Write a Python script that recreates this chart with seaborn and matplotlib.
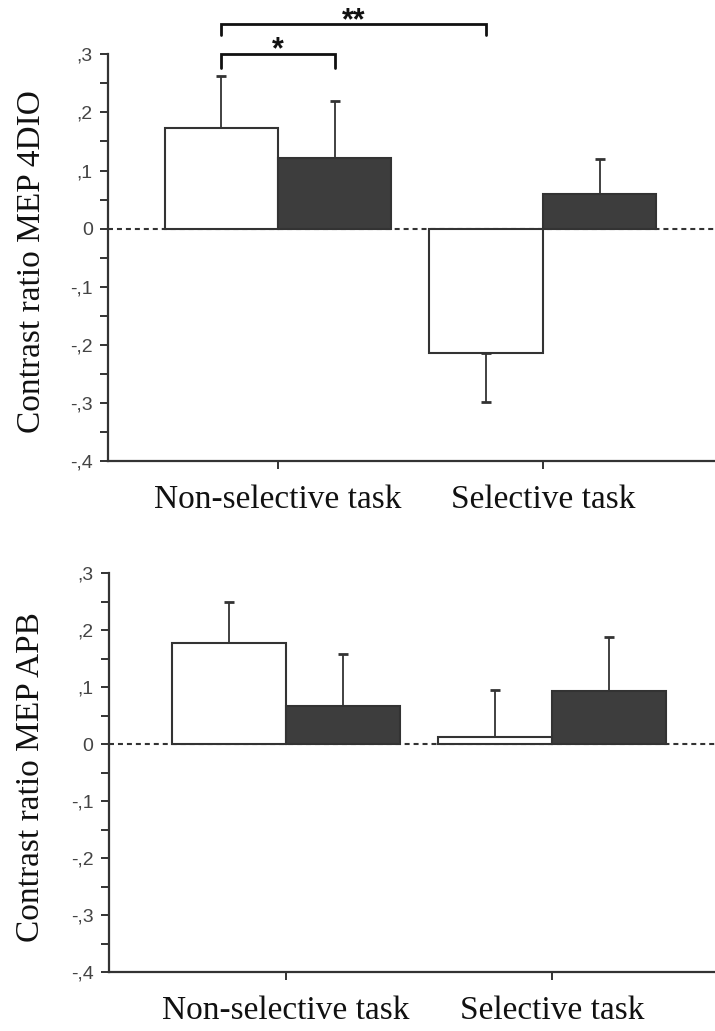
import pandas as pd
import numpy as np
import matplotlib.pyplot as plt
import seaborn as sns
from matplotlib.ticker import MultipleLocator, FuncFormatter

# ----------------------------- DATA -----------------------------
tasks = ["Non-selective task", "Selective task"]
conditions = ["open", "filled"]

# top panel: MEP 4DIO
dio_open = [0.174, -0.214]
dio_filled = [0.121, 0.060]
dio_open_err = [0.088, 0.084]
dio_filled_err = [0.099, 0.060]

# bottom panel: MEP APB
apb_open = [0.177, 0.012]
apb_filled = [0.067, 0.093]
apb_open_err = [0.072, 0.083]
apb_filled_err = [0.092, 0.096]

# significance brackets (top panel): (from bar, to bar, label, height, tick bottom)
brackets = [((0, 0), (0, 1), "*", 0.301, 0.277), ((0, 0), (1, 0), "**", 0.352, 0.333)]

DARK = "#3d3d3d"
LINE = "#333333"


def fmt_tick(v, pos):
    if abs(v) < 1e-9:
        return "0"
    s = f"{v:.1f}"
    return s.replace("0.", ",")


def make_df(open_vals, filled_vals):
    rows = []
    for i, t in enumerate(tasks):
        rows.append({"task": t, "cond": "open", "value": open_vals[i]})
        rows.append({"task": t, "cond": "filled", "value": filled_vals[i]})
    return pd.DataFrame(rows)


def draw_panel(ax, df, errs, ylabel, xlim):
    ax.axhline(0, color=LINE, lw=1.5, ls=(0, (2.4, 1.9)), zorder=0.5)
    sns.barplot(data=df, x="task", y="value", hue="cond", hue_order=conditions,
                palette={"open": "white", "filled": DARK}, width=0.856,
                edgecolor=LINE, linewidth=1.5, legend=False, ax=ax, zorder=2,
                errorbar=None)
    bar_groups = list(ax.containers)
    centers = {}
    for h, cont in enumerate(bar_groups):
        for c, patch in enumerate(cont.patches):
            x = patch.get_x() + patch.get_width() / 2
            val = df[(df.task == tasks[c]) & (df.cond == conditions[h])].value.iloc[0]
            e = errs[h][c]
            yerr = [[0], [e]] if val >= 0 else [[e], [0]]
            ax.errorbar(x, val, yerr=yerr, fmt="none", ecolor=LINE, elinewidth=1.3,
                        capsize=3.6, capthick=2.0, zorder=1.5)
            centers[(c, h)] = x
    ax.set_ylim(-0.4, 0.3)
    ax.set_xlim(*xlim)
    ax.yaxis.set_major_locator(MultipleLocator(0.1))
    ax.yaxis.set_minor_locator(MultipleLocator(0.05))
    ax.yaxis.set_major_formatter(FuncFormatter(fmt_tick))
    ax.tick_params(axis="y", which="both", length=6, width=1.4, color=LINE,
                   labelsize=14, labelcolor="#444444", pad=5)
    ax.tick_params(axis="x", length=6, width=1.4, color=LINE, pad=11)
    for lab in ax.get_xticklabels():
        lab.set_fontfamily("Liberation Serif")
        lab.set_fontsize(24)
        lab.set_color("#111111")
    for lab in ax.get_yticklabels():
        lab.set_fontfamily("Liberation Sans")
    ax.set_xlabel("")
    ax.set_ylabel(ylabel, fontsize=24, family="Liberation Serif", color="#111111")
    for side in ["top", "right"]:
        ax.spines[side].set_visible(False)
    for side in ["left", "bottom"]:
        ax.spines[side].set_color(LINE)
        ax.spines[side].set_linewidth(1.6)
    return centers


sns.set_style("ticks")
plt.rcParams["font.family"] = ["Liberation Sans", "DejaVu Sans"]

fig = plt.figure(figsize=(7.15, 10.31), dpi=100)
ax1 = fig.add_axes([0.151, 0.5529, 0.849, 0.3944])
ax2 = fig.add_axes([0.152, 0.0569, 0.848, 0.3870])

centers = draw_panel(ax1, make_df(dio_open, dio_filled),
                     [dio_open_err, dio_filled_err], "Contrast ratio MEP 4DIO",
                     (-0.642, 1.65))
draw_panel(ax2, make_df(apb_open, apb_filled),
           [apb_open_err, apb_filled_err], "Contrast ratio MEP APB",
           (-0.665, 1.613))
ax1.yaxis.set_label_coords(-0.101, 0.49)
ax2.yaxis.set_label_coords(-0.103, 0.49)

for a, b, label, h, bottom in brackets:
    x0, x1 = centers[a], centers[b]
    ax1.plot([x0, x0, x1, x1], [bottom, h, h, bottom], color="#111111",
             lw=2.0, clip_on=False, solid_joinstyle="miter")
    ax1.text((x0 + x1) / 2, h - 0.008, label, ha="center", va="baseline",
             fontsize=22, fontweight="bold", color="#111111", clip_on=False)

fig.savefig("out.png", dpi=100)
